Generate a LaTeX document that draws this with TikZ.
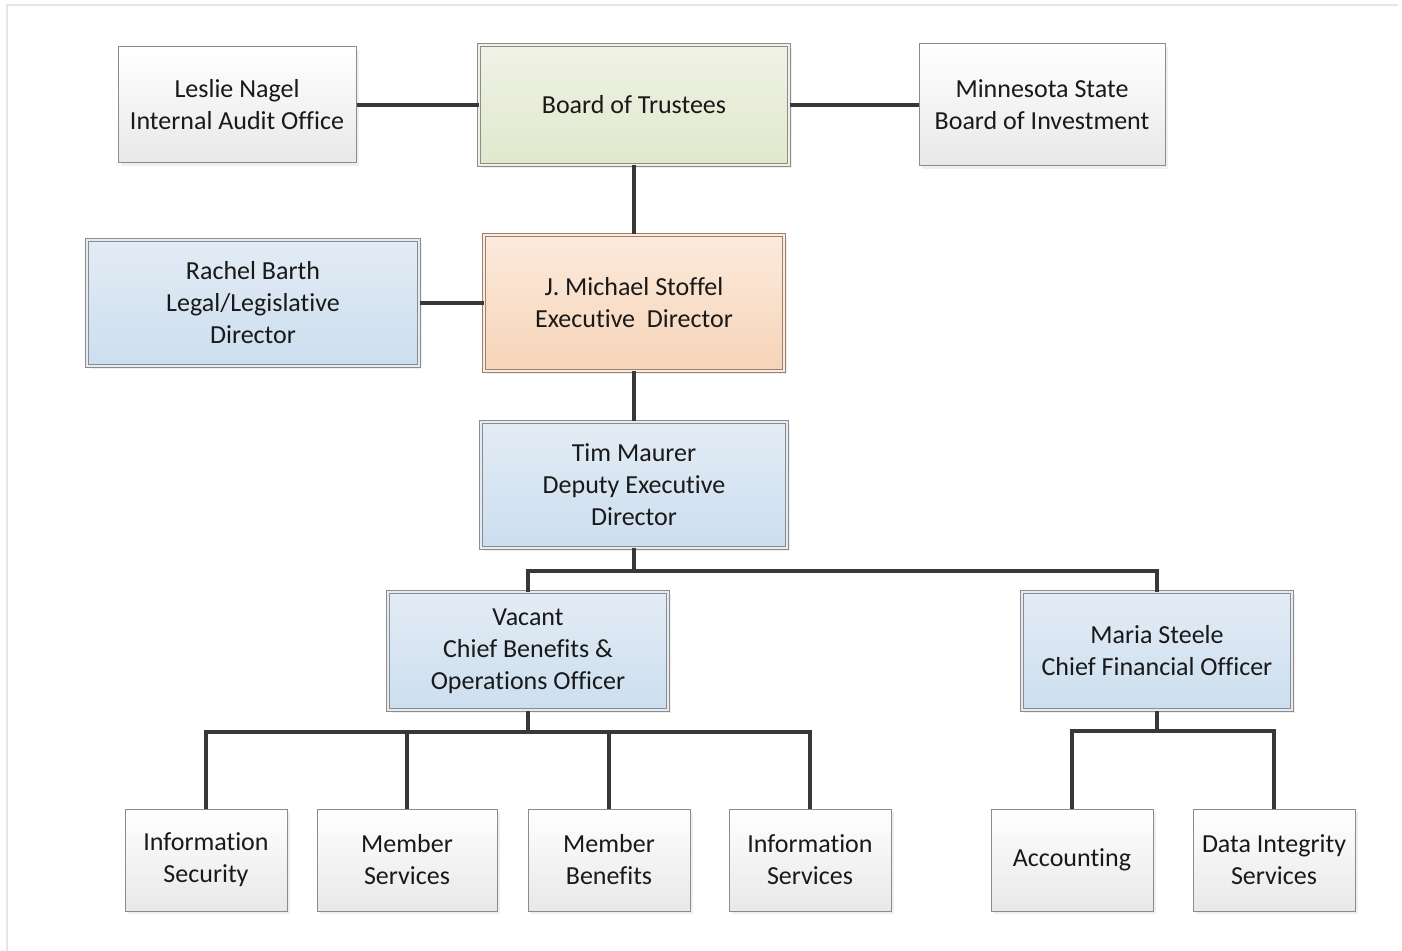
\documentclass[tikz,border=0pt]{standalone}
\usepackage{fontspec}
\setmainfont[Ligatures=NoCommon]{Carlito}
\usepackage{tikz}
\usetikzlibrary{shadows}

\definecolor{linegray}{HTML}{383838}
\definecolor{rimgray}{HTML}{8C8C8C}
\definecolor{framegray}{HTML}{E6E6E6}
\definecolor{greentop}{HTML}{F0F2E6}
\definecolor{greenbot}{HTML}{E0E8CC}
\definecolor{orangetop}{HTML}{FCEADC}
\definecolor{orangebot}{HTML}{F6D4B8}
\definecolor{orangerim}{HTML}{9A8070}
\definecolor{bluetop}{HTML}{E3ECF5}
\definecolor{bluebot}{HTML}{CCDEEF}

\begin{document}
\begin{tikzpicture}[x=0.5pt, y=-0.5pt,
    box/.style={draw=rimgray, line width=0.5pt, align=center, inner sep=0pt,
        text=black!90, font=\fontsize{13}{16}\selectfont,
        drop shadow={shadow xshift=1.5pt, shadow yshift=-1.5pt, fill=black!12}},
    plain/.style={box, top color=white, bottom color=black!9},
    framed/.style={box, double distance=1.2pt},
    greenbox/.style={framed, top color=greentop, bottom color=greenbot, double=greentop},
    orangebox/.style={framed, draw=orangerim, top color=orangetop, bottom color=orangebot, double=orangetop},
    bluebox/.style={framed, top color=bluetop, bottom color=bluebot, double=bluetop},
    link/.style={draw=linegray, line width=1.6pt}]
    \useasboundingbox (0,0) rectangle (1402,951);
    \draw[framegray, line width=1pt] (7,951) -- (7,5) -- (1398,5);
    % top row
    \node[greenbox, minimum width=155pt, minimum height=60pt] (board) at (634,105) {Board of Trustees};
    \node[plain, minimum width=119pt, minimum height=58pt] (audit) at (237,105) {Leslie Nagel\\Internal Audit Office};
    \node[plain, minimum width=123pt, minimum height=61pt] (sbi) at (1042,105) {Minnesota State\\Board of Investment};
    % directors
    \node[orangebox, minimum width=150pt, minimum height=68pt] (exec) at (634,303) {J. Michael Stoffel\\Executive~~Director};
    \node[bluebox, minimum width=166pt, minimum height=63pt] (legal) at (253,303) {Rachel Barth\\Legal/Legislative\\Director};
    \node[bluebox, minimum width=153pt, minimum height=63pt] (deputy) at (634,485) {Tim Maurer\\Deputy Executive\\Director};
    \node[bluebox, minimum width=140pt, minimum height=59pt] (cbo) at (528,651) {Vacant\\Chief Benefits \&\\Operations Officer};
    \node[bluebox, minimum width=135pt, minimum height=59pt] (cfo) at (1157,651) {Maria Steele\\Chief Financial Officer};
    % units
    \node[plain, minimum width=81pt, minimum height=51pt] (infosec) at (206,860) {Information\\Security};
    \node[plain, minimum width=90pt, minimum height=51pt] (memserv) at (407,860) {Member\\Services};
    \node[plain, minimum width=81pt, minimum height=51pt] (memben) at (609,860) {Member\\Benefits};
    \node[plain, minimum width=81pt, minimum height=51pt] (infoserv) at (810,860) {Information\\Services};
    \node[plain, minimum width=81pt, minimum height=51pt] (acct) at (1072,860) {Accounting};
    \node[plain, minimum width=81pt, minimum height=51pt] (data) at (1274,860) {Data Integrity\\Services};
    % connectors
    \coordinate (busA) at (634,571);
    \coordinate (busB) at (528,732);
    \coordinate (busC) at (1157,731);
    \draw[link] (audit) -- (board);
    \draw[link] (board) -- (sbi);
    \draw[link] (board) -- (exec);
    \draw[link] (legal) -- (exec);
    \draw[link] (exec) -- (deputy);
    \draw[link] (deputy) -- (busA);
    \draw[link] (busA) -| (cbo.north);
    \draw[link] (busA) -| (cfo.north);
    \draw[link] (cbo) -- (busB);
    \foreach \n in {infosec, memserv, memben, infoserv}
        \draw[link] (busB) -| (\n.north);
    \draw[link] (cfo) -- (busC);
    \foreach \n in {acct, data}
        \draw[link] (busC) -| (\n.north);
\end{tikzpicture}
\end{document}
